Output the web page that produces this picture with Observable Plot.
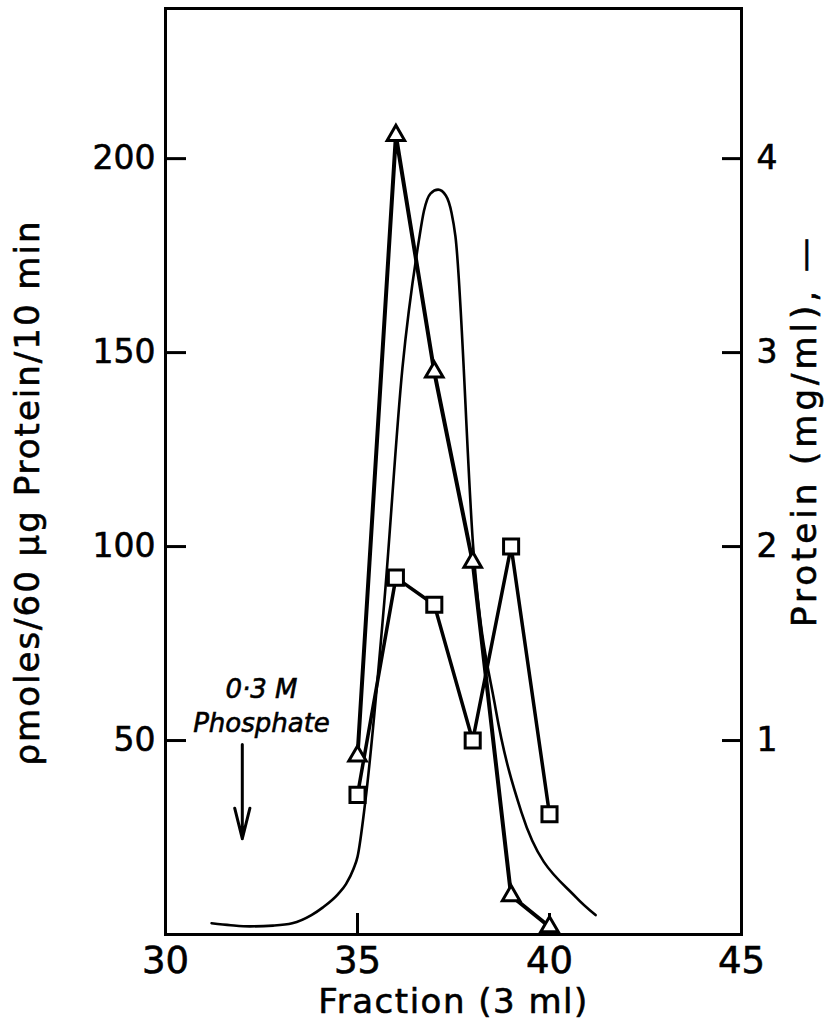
<!DOCTYPE html>
<html><head><meta charset="utf-8">
<script src="https://cdn.jsdelivr.net/npm/d3@7"></script>
<script src="https://cdn.jsdelivr.net/npm/@observablehq/plot@0.6"></script>
<style>
body{margin:0;background:#fff}
svg{font-family:"DejaVu Sans",sans-serif}
svg text{stroke:#000;stroke-width:0.6px}
</style>
</head><body><div id="chart"></div>
<script>
// Activity series (pmoles/60 µg protein/10 min)
const fractions = [35, 36, 37, 38, 39, 40];
const triangleActivity = [46, 206, 145, 96, 10, 2];
const squareActivity = [36, 92, 85, 50, 100, 31];

// Protein elution profile (mg/ml), right axis
const proteinFraction = [31.2, 31.7, 32.2, 32.8, 33.3, 33.8, 34.1, 34.5, 34.7, 34.9, 35.0, 35.2, 35.7, 36.17, 36.6, 36.73, 36.9, 37.1, 37.3, 37.45, 37.55, 38.02, 38.6, 39.27, 40.7, 41.2];
const proteinMgMl = [0.058, 0.048, 0.042, 0.046, 0.058, 0.10, 0.14, 0.21, 0.26, 0.34, 0.40, 0.68, 1.72, 2.92, 3.58, 3.73, 3.82, 3.84, 3.81, 3.72, 3.60, 1.98, 1.16, 0.63, 0.19, 0.10];

// Axes
const xTicks = [30, 35, 40, 45];
const xInnerTicks = [35, 40];
const yTicks = [50, 100, 150, 200];
const rightTicks = [1, 2, 3, 4];
const proteinToActivity = 50; // 1 mg/ml on the right axis = 50 units on the left

// Annotation
const annotationLines = ["0·3 M", "Phosphate"];
const annotationX = [32.5, 32.5];
const annotationY = [63, 54.4];
const arrowX = [32];
const arrowFrom = [49];
const arrowTo = [24.7];

const triData = fractions.map((f, i) => ({f, v: triangleActivity[i]}));
const sqData = fractions.map((f, i) => ({f, v: squareActivity[i]}));
const protData = proteinFraction.map((f, i) => ({f, p: proteinMgMl[i]}));
const annData = annotationLines.map((t, i) => ({t, x: annotationX[i], y: annotationY[i]}));
const arrowData = arrowX.map((x, i) => ({x, y1: arrowFrom[i], y2: arrowTo[i]}));

const W = 835, H = 1029;
const mL = 165, mR = 94, mT = 8, mB = 95;
const frameW = W - mL - mR, frameH = H - mT - mB;

const xTitle = "Fraction (3 ml)";
const yTitle = "ρmoles/60 μg Protein/10 min";
const y2Title = "Protein (mg/ml), —";

const chart = Plot.plot({
  width: W, height: H,
  marginLeft: mL, marginRight: mR, marginTop: mT, marginBottom: mB,
  x: {domain: [30, 45]},
  y: {domain: [0, 238.7]},
  marks: [
    // inward tick marks
    Plot.ruleY(yTicks, {insetRight: frameW - 21, strokeWidth: 3}),
    Plot.ruleY(rightTicks.map(t => t * proteinToActivity), {insetLeft: frameW - 19, strokeWidth: 3}),
    Plot.ruleX(xInnerTicks, {insetTop: frameH - 21, strokeWidth: 3}),
    Plot.axisX(xTicks, {tickSize: 0, tickPadding: 12, fontSize: 37, label: null}),
    Plot.axisY(yTicks, {anchor: "left", tickSize: 0, tickPadding: 10, fontSize: 33, label: null}),
    Plot.axisY(rightTicks.map(t => t * proteinToActivity), {anchor: "right", tickSize: 0, tickPadding: 15, fontSize: 33, label: null, tickFormat: d => d / proteinToActivity}),
    // protein line
    Plot.line(protData, {x: "f", y: d => d.p * proteinToActivity, stroke: "black", strokeWidth: 2.6, curve: "monotone-x"}),
    // activity lines
    Plot.line(triData, {x: "f", y: "v", stroke: "black", strokeWidth: 4}),
    Plot.line(sqData, {x: "f", y: "v", stroke: "black", strokeWidth: 3.5}),
    Plot.dot(triData, {x: "f", y: "v", symbol: "triangle", r: 6.5, fill: "white", stroke: "black", strokeWidth: 3}),
    Plot.dot(sqData, {x: "f", y: "v", symbol: "square", r: 8.5, fill: "white", stroke: "black", strokeWidth: 3}),
    // annotation
    Plot.arrow(arrowData, {x1: "x", y1: "y1", x2: "x", y2: "y2", strokeWidth: 3, headLength: 18, headAngle: 28}),
    Plot.text(annData, {x: "x", y: "y", text: "t", fontSize: 26, fontStyle: "italic"}),
    // titles
    Plot.text([xTitle], {frameAnchor: "bottom", lineAnchor: "middle", textAnchor: "middle", dy: 68, fontSize: 34}),
    Plot.text([yTitle], {frameAnchor: "left", lineAnchor: "middle", textAnchor: "middle", rotate: -90, dx: -137, dy: 21, fontSize: 34}),
    Plot.text([y2Title], {frameAnchor: "right", lineAnchor: "middle", textAnchor: "middle", rotate: -90, dx: 64, dy: -41, fontSize: 34}),
    Plot.frame({stroke: "black", strokeWidth: 3})
  ]
});
d3.select(chart).selectAll("text").each(function() {
  const t = this.textContent;
  if (t === yTitle) d3.select(this).attr("letter-spacing", 2);
  else if (t === y2Title) d3.select(this).attr("letter-spacing", 4);
  else if (t === xTitle) d3.select(this).attr("letter-spacing", 1.5);
});
document.getElementById("chart").append(chart);
</script>
</body></html>
